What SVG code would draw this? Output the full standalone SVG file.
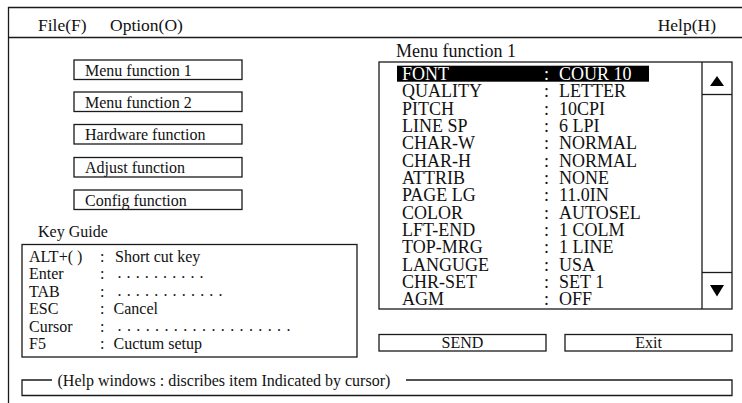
<svg xmlns="http://www.w3.org/2000/svg" width="742" height="403" viewBox="0 0 742 403">
<style>
  .ln{fill:none;stroke:#1a1a1a;stroke-width:1.3}
  .bx{fill:#fff;stroke:#1a1a1a;stroke-width:1.3}
  .t{font-family:"Liberation Serif","Times New Roman",serif;fill:#111}
  .m{font-size:17.5px}
  .b{font-size:16px}
  .l{font-size:18px}
</style>
<rect width="742" height="403" fill="#fff"/>
<g id="frame">
  <path class="ln" d="M742,7.5 H8.5 V403"/>
  <line class="ln" x1="8.5" y1="37.5" x2="742" y2="37.5"/>
</g>
<g id="menubar">
  <text class="t m" x="38" y="30.5">File(F)</text>
  <text class="t m" x="110" y="30.5">Option(O)</text>
  <text class="t m" x="716" y="30.5" text-anchor="end">Help(H)</text>
</g>
<g id="btn-menu1"><rect class="bx" x="74" y="60" width="168" height="19.5"/><text class="t b" x="85" y="75.5">Menu function 1</text></g>
<g id="btn-menu2"><rect class="bx" x="74" y="92" width="168" height="19.5"/><text class="t b" x="85" y="107.5">Menu function 2</text></g>
<g id="btn-hardware"><rect class="bx" x="74" y="124.5" width="168" height="19.5"/><text class="t b" x="85" y="140">Hardware function</text></g>
<g id="btn-adjust"><rect class="bx" x="74" y="157.5" width="168" height="19.5"/><text class="t b" x="85" y="173">Adjust function</text></g>
<g id="btn-config"><rect class="bx" x="74" y="190" width="168" height="19.5"/><text class="t b" x="85" y="205.5">Config function</text></g>
<g id="key-guide">
  <text class="t b" x="38" y="237">Key Guide</text>
  <rect class="bx" x="22" y="244.5" width="335" height="112.5"/>
  <g class="t b">
    <text x="29" y="262">ALT+( )</text><text x="100" y="262">:</text><text x="115" y="262">Short cut key</text>
    <text x="29" y="279.3">Enter</text><text x="100" y="279.3">:</text><text x="117.5" y="278.3" textLength="86" lengthAdjust="spacing" xml:space="preserve">. . . . . . . . . .</text>
    <text x="29" y="296.7">TAB</text><text x="100" y="296.7">:</text><text x="117.5" y="295.7" textLength="105" lengthAdjust="spacing" xml:space="preserve">. . . . . . . . . . . .</text>
    <text x="29" y="314">ESC</text><text x="100" y="314">:</text><text x="113.5" y="314">Cancel</text>
    <text x="29" y="331.5">Cursor</text><text x="100" y="331.5">:</text><text x="117.5" y="330.5" textLength="173" lengthAdjust="spacing" xml:space="preserve">. . . . . . . . . . . . . . . . . . .</text>
    <text x="29" y="349">F5</text><text x="100" y="349">:</text><text x="113.5" y="349">Cuctum setup</text>
  </g>
</g>
<g id="menu-list">
  <text class="t l" x="396" y="57">Menu function 1</text>
  <rect class="bx" x="379" y="62" width="353" height="247"/>
  <line class="ln" x1="702" y1="62" x2="702" y2="309"/>
  <line class="ln" x1="702" y1="94.5" x2="732" y2="94.5"/>
  <line class="ln" x1="702" y1="272.5" x2="732" y2="272.5"/>
  <polygon points="710,86 724,86 717,76" fill="#000"/>
  <polygon points="710,285 724,285 717,296.5" fill="#000"/>
  <rect x="397" y="65.7" width="252" height="16" fill="#000"/>
  <g class="t l">
    <text x="402" y="80" fill="#fff" style="fill:#fff">FONT</text><text x="544" y="80" style="fill:#fff">:</text><text x="559" y="80" style="fill:#fff">COUR 10</text>
    <text x="402" y="97.3">QUALITY</text><text x="544" y="97.3">:</text><text x="559" y="97.3">LETTER</text>
    <text x="402" y="114.7">PITCH</text><text x="544" y="114.7">:</text><text x="559" y="114.7">10CPI</text>
    <text x="402" y="132">LINE SP</text><text x="544" y="132">:</text><text x="559" y="132">6 LPI</text>
    <text x="402" y="149.3">CHAR-W</text><text x="544" y="149.3">:</text><text x="559" y="149.3">NORMAL</text>
    <text x="402" y="166.7">CHAR-H</text><text x="544" y="166.7">:</text><text x="559" y="166.7">NORMAL</text>
    <text x="402" y="184">ATTRIB</text><text x="544" y="184">:</text><text x="559" y="184">NONE</text>
    <text x="402" y="201.3">PAGE LG</text><text x="544" y="201.3">:</text><text x="559" y="201.3">11.0IN</text>
    <text x="402" y="218.7">COLOR</text><text x="544" y="218.7">:</text><text x="559" y="218.7">AUTOSEL</text>
    <text x="402" y="236">LFT-END</text><text x="544" y="236">:</text><text x="559" y="236">1 COLM</text>
    <text x="402" y="253.3">TOP-MRG</text><text x="544" y="253.3">:</text><text x="559" y="253.3">1 LINE</text>
    <text x="402" y="270.7">LANGUGE</text><text x="544" y="270.7">:</text><text x="559" y="270.7">USA</text>
    <text x="402" y="288">CHR-SET</text><text x="544" y="288">:</text><text x="559" y="288">SET 1</text>
    <text x="402" y="305.3">AGM</text><text x="544" y="305.3">:</text><text x="559" y="305.3">OFF</text>
  </g>
</g>
<g id="btn-send"><rect class="bx" x="379" y="334.5" width="167" height="16.5"/><text class="t b" x="462.5" y="348" text-anchor="middle">SEND</text></g>
<g id="btn-exit"><rect class="bx" x="565" y="334.5" width="167" height="16.5"/><text class="t b" x="648.5" y="348" text-anchor="middle">Exit</text></g>
<g id="help-window">
  <path class="ln" d="M52,380 H22 V395.5 H732 V380 H406"/>
  <text class="t b" x="57.5" y="385.5">(Help windows : discribes item Indicated by cursor)</text>
</g>
<g id="connectors"/>
</svg>
